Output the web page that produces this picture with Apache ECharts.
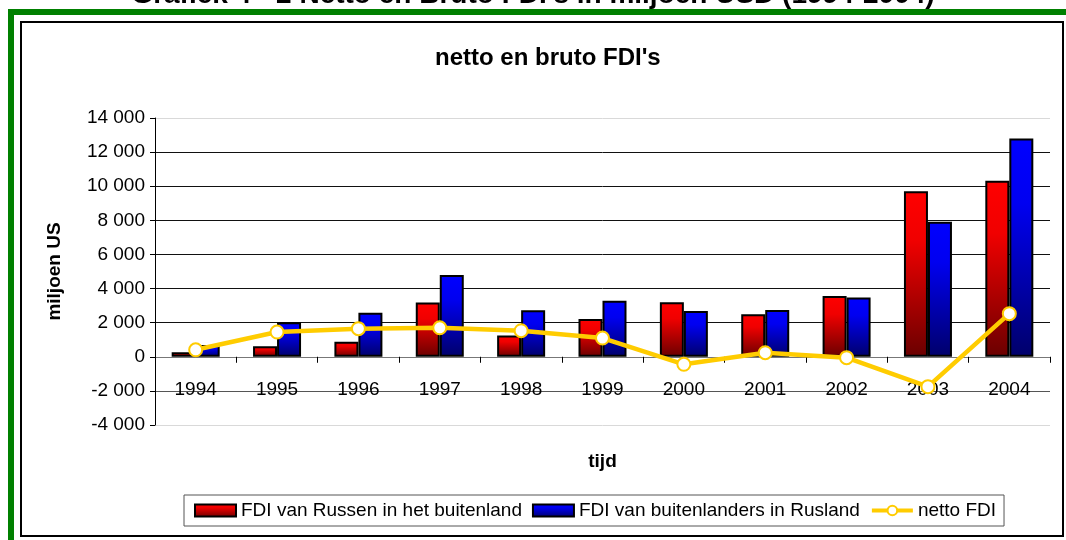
<!DOCTYPE html>
<html>
<head>
<meta charset="utf-8">
<title>netto en bruto FDI's</title>
<script src="https://cdn.jsdelivr.net/npm/echarts@6/dist/echarts.min.js"></script>
<style>
  html, body { margin: 0; padding: 0; background: #fff; }
  #chart { width: 1066px; height: 540px; }
</style>
</head>
<body>
<div id="chart"></div>
<script>
// jaren op de x-as
var years = ['1994', '1995', '1996', '1997', '1998', '1999', '2000', '2001', '2002', '2003', '2004'];
// FDI van Russen in het buitenland (miljoen USD)
var fdiOut = [270, 610, 880, 3180, 1250, 2210, 3190, 2490, 3560, 9710, 10320];
// FDI van buitenlanders in Rusland
var fdiIn = [690, 2030, 2580, 4800, 2730, 3290, 2680, 2740, 3470, 7910, 12800];
// netto FDI
var fdiNet = [410, 1450, 1650, 1700, 1530, 1100, -440, 240, -50, -1750, 2530];

var seriesNames = ['FDI van Russen in het buitenland', 'FDI van buitenlanders in Rusland', 'netto FDI'];
var font = "'Liberation Sans', Arial, sans-serif";

var chart = echarts.init(document.getElementById('chart'), null, { renderer: 'canvas' });

function grad(top, mid, bottom) {
    return new echarts.graphic.LinearGradient(0, 0, 0, 1, [
        { offset: 0, color: top },
        { offset: 0.3, color: mid },
        { offset: 1, color: bottom }
    ]);
}

var option = {
    backgroundColor: '#ffffff',
    animation: false,
    textStyle: { fontFamily: font },
    title: {
        text: "netto en bruto FDI's",
        left: 430,
        top: 41,
        textStyle: { fontSize: 24, fontWeight: 'bold', color: '#000', fontFamily: font }
    },
    graphic: [
        // afgesneden kop bovenaan
        {
            type: 'text', left: 'center', top: -19,
            style: {
                text: "Grafiek 4 - 2 Netto en Bruto FDI's in miljoen USD (1994-2004)",
                font: "bold 28px 'Liberation Sans', Arial, sans-serif",
                fill: '#000'
            }
        },
        // groene rand
        { type: 'rect', shape: { x: 8, y: 9, width: 1058, height: 6 }, style: { fill: '#008000' } },
        { type: 'rect', shape: { x: 8, y: 9, width: 6, height: 531 }, style: { fill: '#008000' } },
        // zwarte kader om de grafiek
        {
            type: 'rect', shape: { x: 21, y: 22, width: 1042, height: 514 },
            style: { fill: 'none', stroke: '#000', lineWidth: 2 }
        }
    ],
    legend: {
        left: 184,
        top: 495,
        padding: [6, 8, 6, 10],
        itemGap: 10,
        itemWidth: 41,
        itemHeight: 12,
        borderColor: '#555',
        borderWidth: 1,
        textStyle: { fontSize: 19, color: '#000', fontFamily: font },
        data: [
            { name: seriesNames[0], icon: 'rect' },
            { name: seriesNames[1], icon: 'rect' },
            { name: seriesNames[2], lineStyle: { width: 4 }, itemStyle: { borderWidth: 2 } }
        ]
    },
    grid: { left: 155, right: 16, top: 118, bottom: 115 },
    xAxis: {
        type: 'category',
        data: years,
        name: 'tijd',
        nameLocation: 'middle',
        nameGap: 27,
        nameTextStyle: { fontSize: 19, fontWeight: 'bold', color: '#000' },
        axisLine: { onZero: true, lineStyle: { color: '#777', width: 1 } },
        axisTick: { show: true, length: 6, lineStyle: { color: '#000' } },
        axisLabel: { margin: -45, fontSize: 19, color: '#000' },
        splitLine: { show: false }
    },
    yAxis: {
        type: 'value',
        min: -4000,
        max: 14000,
        interval: 2000,
        name: 'miljoen US',
        nameLocation: 'middle',
        nameGap: 91,
        nameTextStyle: { fontSize: 19, fontWeight: 'bold', color: '#000' },
        axisLine: { show: true, onZero: false, lineStyle: { color: '#000', width: 1 } },
        axisTick: { show: true, length: 5, lineStyle: { color: '#000' } },
        axisLabel: {
            fontSize: 19,
            color: '#000',
            margin: 10,
            formatter: function (v) {
                var s = String(Math.abs(v)).replace(/\B(?=(\d{3})+(?!\d))/g, ' ');
                return (v < 0 ? '-' : '') + s;
            }
        },
        splitLine: {
            show: true,
            lineStyle: {
                width: 1,
                color: ['#d9d9d9', '#555', '#777', '#111', '#111', '#111', '#111', '#111', '#111', '#d9d9d9']
            }
        }
    },
    series: [
        {
            name: seriesNames[0],
            type: 'bar',
            data: fdiOut,
            barWidth: 24,
            barGap: '0%',
            itemStyle: {
                color: grad('#ff0000', '#f00000', '#6a0000'),
                borderColor: '#000',
                borderWidth: 2
            }
        },
        {
            name: seriesNames[1],
            type: 'bar',
            data: fdiIn,
            barWidth: 24,
            barGap: '0%',
            itemStyle: {
                color: grad('#0000ff', '#0000f0', '#00006a'),
                borderColor: '#000',
                borderWidth: 2
            }
        },
        {
            name: seriesNames[2],
            type: 'line',
            data: fdiNet,
            z: 5,
            symbol: 'circle',
            symbolSize: 13,
            lineStyle: { color: '#ffcc00', width: 4.5 },
            itemStyle: { color: '#ffffff', borderColor: '#ffcc00', borderWidth: 2 }
        }
    ]
};

chart.setOption(option);
</script>
</body>
</html>
